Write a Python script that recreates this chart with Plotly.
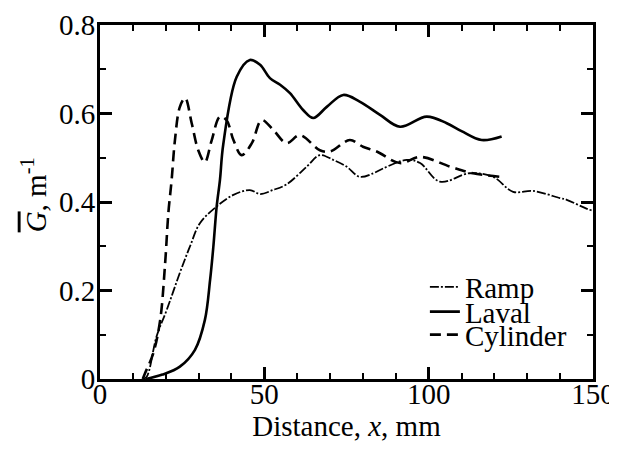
import plotly.graph_objects as go

# Ramp (dash-dot)
ramp_x = [13, 14.2, 17.2, 20.3, 24.3, 27.4, 30.4, 35.5, 40.6, 45.6, 48.7, 52.6, 56.8, 62.9,
          66.9, 71, 75, 79, 83.2, 86.2, 93.3, 97.4, 103.4, 112.5, 119.6, 125.7, 131.7,
          139.9, 142, 148, 150]
ramp_y = [0, 0.005, 0.096, 0.156, 0.24, 0.30, 0.352, 0.39, 0.416, 0.427, 0.418, 0.427, 0.44, 0.48,
          0.506, 0.495, 0.48, 0.457, 0.465, 0.476, 0.495, 0.488, 0.446, 0.465, 0.457, 0.423, 0.425,
          0.409, 0.405, 0.385, 0.38]

# Laval (solid)
laval_x = [14, 19, 24.3, 28.9, 31.9, 33.5, 34.5, 35.5, 36.5, 37.5, 41.6, 45.6, 48.7, 51.7,
           54.8, 57.8, 61.8, 64.9, 69, 74, 79, 85.2, 91.3, 99.4, 105.5, 110, 116.1, 122.2]
laval_y = [0, 0.01, 0.028, 0.066, 0.133, 0.224, 0.30, 0.39, 0.45, 0.53, 0.683, 0.721, 0.71, 0.68,
           0.665, 0.646, 0.608, 0.59, 0.615, 0.642, 0.627, 0.597, 0.57, 0.593, 0.578, 0.56, 0.54, 0.548]

# Cylinder (dashed)
cyl_x = [13, 13.7, 16.2, 18.3, 19.8, 20.8, 21.8, 22.8, 24.3, 25.9, 27.9, 29.9, 31.9, 34, 36.5,
         38.5, 40.6, 43.1, 46.2, 49.2, 52.7, 56.8, 60.8, 66.9, 70, 76, 80, 84.2, 91.3, 97.4,
         106.5, 113.5, 121.7]
cyl_y = [0, 0.013, 0.058, 0.133, 0.26, 0.375, 0.45, 0.54, 0.615, 0.635, 0.578, 0.517, 0.49, 0.54,
         0.593, 0.585, 0.54, 0.506, 0.533, 0.585, 0.563, 0.533, 0.551, 0.517, 0.514, 0.54, 0.525,
         0.514, 0.488, 0.502, 0.48, 0.465, 0.457]

FONT = "Liberation Serif"
FS = 29

fig = go.Figure()
fig.add_trace(go.Scatter(x=ramp_x, y=ramp_y, name="Ramp", mode="lines", legend="legend",
                         line=dict(color="black", width=1.8, dash="9px,2px,2px,2px", shape="spline")))
fig.add_trace(go.Scatter(x=laval_x, y=laval_y, name="Laval", mode="lines", legend="legend2",
                         line=dict(color="black", width=2.6, shape="spline")))
fig.add_trace(go.Scatter(x=cyl_x, y=cyl_y, name="Cylinder", mode="lines", legend="legend3",
                         line=dict(color="black", width=2.6, dash="11px,6px", shape="spline")))

axis_common = dict(
    showline=True, linecolor="black", linewidth=3, mirror="ticks",
    ticks="inside", ticklen=12, tickwidth=2.5, tickcolor="black",
    showgrid=False, zeroline=False, automargin=False,
    tickfont=dict(family=FONT, size=FS, color="black"),
)

fig.update_xaxes(range=[0, 150], tickvals=[0, 50, 100, 150], ticklabelstandoff=-13,
                 minor=dict(dtick=10, ticks="inside", ticklen=6, tickwidth=2, tickcolor="black"),
                 title=dict(text="Distance, <i>x</i>, mm", font=dict(family=FONT, size=FS, color="black"),
                            standoff=2),
                 **axis_common)
fig.update_yaxes(range=[0, 0.8], tickvals=[0, 0.2, 0.4, 0.6, 0.8], ticktext=["0", "0.2", "0.4", "0.6", "0.8"],
                 ticklabelstandoff=-4,
                 minor=dict(dtick=0.1, ticks="inside", ticklen=6, tickwidth=2, tickcolor="black"),
                 **axis_common)

# y title as a rotated annotation so it can sit closer to the tick labels
fig.add_annotation(text="<span style='text-decoration:overline'><i>G</i></span>, m<sup>-1</sup>",
                   xref="paper", yref="paper", x=-0.135, y=0.52, xanchor="center", yanchor="middle",
                   textangle=-90, showarrow=False, font=dict(family=FONT, size=FS, color="black"))

leg = dict(xanchor="left", yanchor="middle", font=dict(family=FONT, size=FS, color="black"),
           bgcolor="rgba(0,0,0,0)", borderwidth=0)

# page body adds an 8px offset, so margins are shifted accordingly
fig.update_layout(
    width=617, height=449,
    margin=dict(l=92, r=32, t=17, b=78),
    plot_bgcolor="white", paper_bgcolor="white",
    showlegend=True,
    legend=dict(x=0.659, y=0.26, **leg),
    legend2=dict(x=0.659, y=0.19, **leg),
    legend3=dict(x=0.659, y=0.125, **leg),
)

fig.write_html("out.html")
